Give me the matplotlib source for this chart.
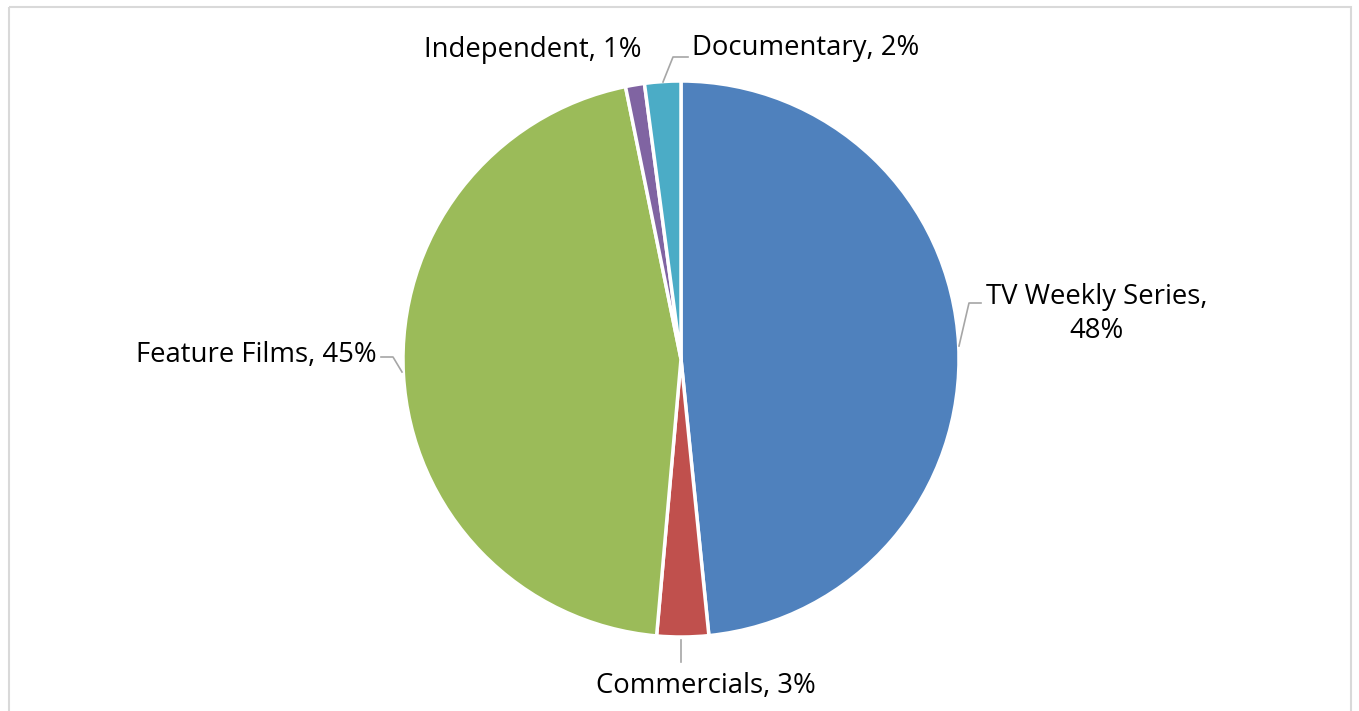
import matplotlib
matplotlib.use("Agg")
import matplotlib.pyplot as plt
from matplotlib.patches import Rectangle

categories = ["TV Weekly Series", "Commercials", "Feature Films", "Independent", "Documentary"]
values = [48.4, 3.0, 45.4, 1.1, 2.1]
colors = ["#4F81BD", "#C0504D", "#9BBB59", "#8064A2", "#4BACC6"]

W, H = 1359, 711
fig = plt.figure(figsize=(W / 100, H / 100), dpi=100)
ax = fig.add_axes([0, 0, 1, 1])

cx, cy, r = 681, 359, 278
# y axis is inverted below: startangle=-90 points up, counterclock=True appears clockwise
ax.pie(values, colors=colors, startangle=-90, counterclock=True,
       center=(cx, cy), radius=r, frame=True,
       wedgeprops=dict(edgecolor="white", linewidth=2.5))
ax.set_xlim(0, W)
ax.set_ylim(H, 0)
ax.set_aspect("equal")
ax.axis("off")

# border
ax.add_patch(Rectangle((8.5, 6.5), W - 17, H + 20, fill=False, edgecolor="#D9D9D9",
                       linewidth=1.5, clip_on=False))

total = sum(values)
labels = [f"{c}, {round(v / total * 100):.0f}%" for c, v in zip(categories, values)]

font = dict(family="Open Sans", fontsize=19.8, color="#000000")
lc = "#A6A6A6"

# TV Weekly Series
ax.text(1097, 314, labels[0].replace(", ", ",\n"), ha="center", va="center", linespacing=1.3, **font)
ax.plot([959, 969, 981], [346, 303, 303], color=lc, lw=1.2)
# Commercials
ax.text(706, 686, labels[1], ha="center", va="center", **font)
ax.plot([681, 681], [640, 662], color=lc, lw=1.2)
# Feature Films
ax.text(377, 355, labels[2], ha="right", va="center", **font)
ax.plot([381, 393, 402], [357, 357, 372], color=lc, lw=1.2)
# Independent
ax.text(533, 50, labels[3], ha="center", va="center", **font)
# Documentary
ax.text(692, 48, labels[4], ha="left", va="center", **font)
ax.plot([663, 673, 688], [82, 57, 57], color=lc, lw=1.2)

fig.savefig("out.png", dpi=100)
